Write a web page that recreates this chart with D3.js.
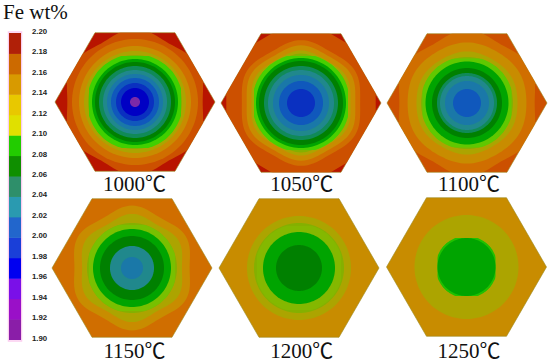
<!DOCTYPE html>
<html><head><meta charset="utf-8">
<script src="https://cdn.jsdelivr.net/npm/d3@7"></script>
<style>html,body{margin:0;padding:0;background:#fff}svg{display:block}</style>
</head><body><svg id="c" width="550" height="364"></svg>
<script>
// ---- data ----
const temperatures = [1000, 1050, 1100, 1150, 1200, 1250];
const legendTicks = [2.20,2.18,2.16,2.14,2.12,2.10,2.08,2.06,2.04,2.02,2.00,1.98,1.96,1.94,1.92,1.90];
const bandLevels = [1.91,1.93,1.95,1.97,1.99,2.01,2.03,2.05,2.07,2.09,2.11,2.13,2.15,2.17,2.19];
const legendColors = ["#8a1ea8","#9a10c8","#7a10e8","#0000f0","#1a3fd8","#2266cc","#2a9ab0","#2e8f6a","#0f8f00","#22cc00","#e0e000","#e8c800","#d89a00","#cc6a00","#b02008"];
const panelColors = ["#7a2aa8","#0000c4","#0a30c0","#1058bc","#1a78a8","#20888c","#108a58","#008000","#00a400","#84b000","#aca400","#c88c00","#d06e00","#cc5000","#b81400"];
// outermost band of each plate, then [Fe wt% band, contour radius in plate units]
const base = [2.19, 2.19, 2.17, 2.15, 2.13, 2.13];
const contours1000 = [[2.17,70.5],[2.15,63],[2.13,56],[2.11,51],[2.09,47],[2.07,43],[2.05,40],[2.03,36],[2.01,32],[1.99,28],[1.97,24],[1.95,19],[1.93,14],[1.91,5]];
const contours1050 = [[2.17,77],[2.15,61],[2.13,56],[2.11,51],[2.09,48],[2.07,45],[2.05,42],[2.03,37],[2.01,33],[1.99,28],[1.97,22],[1.95,14]];
const contours1100 = [[2.15,70.5],[2.13,60],[2.11,51],[2.09,46],[2.07,41.5],[2.05,35],[2.03,30],[2.01,27],[1.99,22],[1.97,14]];
const contours1150 = [[2.13,60],[2.11,52],[2.09,45],[2.07,39],[2.05,32],[2.01,22],[1.99,11]];
const contours1200 = [[2.11,52],[2.09,45],[2.07,36],[2.05,23]];
const contours1250 = [[2.11,52],[2.07,29]];
const allContours = [contours1000,contours1050,contours1100,contours1150,contours1200,contours1250];

// ---- layout ----
const svg = d3.select("#c");
const serif = "'Liberation Serif','Noto Sans CJK SC',serif";
const bandColor = c => d3.scaleThreshold().domain(bandLevels.slice(0,-1).map(v=>v+0.01)).range(c);
const panelColor = bandColor(panelColors), legendColor = bandColor(legendColors);
const rScale = d3.scaleLinear().domain([0,80]).range([0,80]);
const nudge = [[1,-1],[1,0],[1,0],[-2,0],[-1,0],[0.5,-1]];
const bulge = [0,0.03,0.01,0.04,0,0];
const haloWidth = [5,4,5,6,8,2];
const blockCol = ["#40d000","#48d000","#60c800","#78c000","#84b800","#20c000"];
const colX = d3.scalePoint().domain([0,1,2]).range([134,466]);
const rowY = d3.scalePoint().domain([0,1]).range([103,268]);
const labelX = d3.scalePoint().domain([0,1,2]).range([134.5,469]);
const hexPts = d3.range(6).map(i=>{const a=i*Math.PI/3;return [rScale(80)*Math.cos(a),rScale(80)*Math.sin(a)];});
const hexPath = d3.line().curve(d3.curveLinearClosed)(hexPts);
const ringK = (R,k)=>R>=65&&R<75?0.04:(R>47?k:0);
const ring = (R,k)=>d3.lineRadial().curve(d3.curveLinearClosed)
  .angle(a=>a).radius(a=>rScale(R)*(1+ringK(R,k)*Math.cos(6*a)))(d3.range(0,2*Math.PI,Math.PI/60));

const defs = svg.append("defs");
temperatures.forEach((t,i)=>{
  const cx = colX(i%3)+nudge[i][0], cy = rowY(Math.floor(i/3))+nudge[i][1];
  defs.append("clipPath").attr("id","h"+i).append("path").attr("d",hexPath);
  const g = svg.append("g").attr("transform",`translate(${cx},${cy})`);
  g.append("path").attr("d",hexPath).attr("fill",panelColor(base[i]))
    .attr("stroke","#9a8a20").attr("stroke-width",0.6);
  const inner = g.append("g").attr("clip-path",`url(#h${i})`);
  allContours[i].forEach(([lv,R])=>{
    if(lv===2.07){
      // blocky compression halo that hugs the green contour in the source image
      const m = R+haloWidth[i];
      defs.append("clipPath").attr("id","b"+i).append("circle").attr("r",rScale(m));
      const bg = inner.append("g").attr("clip-path",`url(#b${i})`);
      [[m-2,m*0.68],[m*0.68,m-2],[m*0.8,m*0.8]].forEach(([w,h])=>bg.append("rect")
        .attr("x",-rScale(w)).attr("y",-rScale(h)).attr("width",2*rScale(w)).attr("height",2*rScale(h)).attr("fill",blockCol[i]));
    }
    inner.append("path").attr("d",ring(R,bulge[i])).attr("fill",panelColor(lv));
  });
  svg.append("text").attr("x",labelX(i%3)).attr("y",Math.floor(i/3)?358:191).attr("text-anchor","middle")
    .attr("font-family",serif).attr("font-size",21).attr("fill","#111").text(t+"℃");
});

// legend
const y = d3.scaleLinear().domain([1.90,2.20]).range([339.5,33]);
svg.append("rect").attr("x",8.5).attr("y",32).attr("width",13).attr("height",309).attr("fill","none").attr("stroke","#fbcdf0").attr("stroke-width",1.5);
svg.append("g").selectAll("rect").data(bandLevels).join("rect")
  .attr("x",9).attr("width",12)
  .attr("y",d=>y(d+0.01)).attr("height",d=>y(d-0.01)-y(d+0.01)+0.5)
  .attr("fill",d=>legendColor(d));
const axis = d3.axisRight(y).tickValues(legendTicks).tickFormat(d3.format(".2f")).tickSize(0).tickPadding(0);
const ag = svg.append("g").attr("transform","translate(32,-2)").call(axis);
ag.select(".domain").remove();
ag.selectAll("text").attr("font-family","'Liberation Sans',Arial,sans-serif").attr("font-size",7.8).attr("font-weight","bold").attr("fill","#222");

svg.append("text").attr("x",3).attr("y",19).attr("font-family",serif).attr("font-size",21).attr("fill","#111").text("Fe wt%");
</script></body></html>
